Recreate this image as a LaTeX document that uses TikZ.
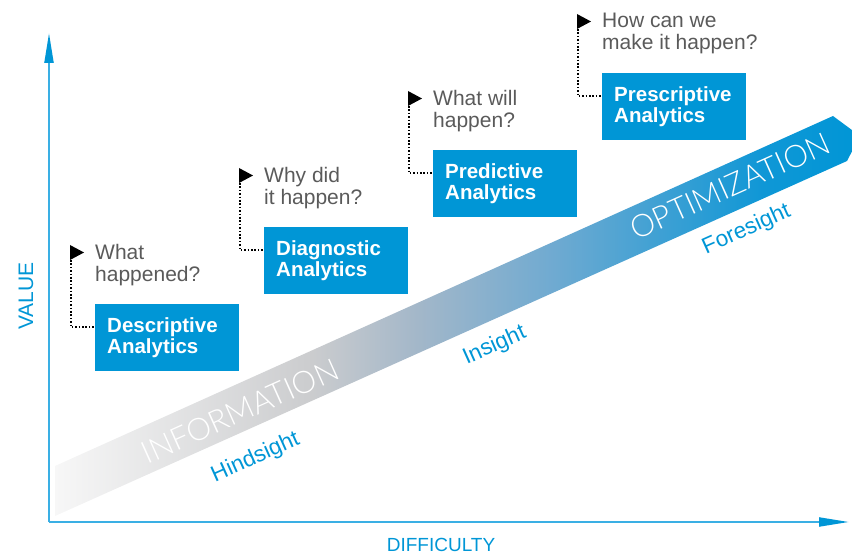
\documentclass[tikz,border=0pt]{standalone}
\usepackage{fontspec}
\setmainfont{Liberation Sans}
\newfontfamily\thinfont{Lato Light}
\usetikzlibrary{arrows.meta}
\definecolor{cblue}{HTML}{0096D6}
\definecolor{axisblue}{HTML}{3AAFE4}
\definecolor{qgray}{HTML}{5A5A5A}
\definecolor{bandA}{HTML}{F7F7F7}
\definecolor{bandB}{HTML}{CBCCCE}
\definecolor{bandC}{HTML}{A3B7C9}
\definecolor{bandD}{HTML}{6FAAD1}
\definecolor{bandE}{HTML}{0F97D6}
% TikZ maps the path onto the 25bp--75bp part of the shading
\pgfdeclarehorizontalshading{bandshade}{100bp}{color(0bp)=(bandA); color(25bp)=(bandA); color(41bp)=(bandB); color(47.5bp)=(bandC); color(56bp)=(bandD); color(69bp)=(bandE); color(75bp)=(cblue); color(100bp)=(cblue)}
\tikzset{
  abox/.style={fill=cblue, text=white, minimum width=144pt, minimum height=67pt,
    inner xsep=12pt, inner ysep=0pt, align=left, text width=120pt,
    font=\fontsize{20.5}{21}\selectfont\bfseries},
  qtext/.style={text=qgray, align=left, inner sep=0pt, font=\fontsize{21}{22}\selectfont},
  dotline/.style={black, line width=1.6pt, dash pattern=on 1.6pt off 1.8pt},
  bandtext/.style={text=white, inner sep=0pt, font=\thinfont\fontsize{31}{31}\selectfont},
  sighttext/.style={text=cblue, inner sep=0pt, anchor=base, font=\fontsize{22.5}{22.5}\selectfont},
  axislabel/.style={text=cblue, inner sep=0pt, anchor=base, font=\fontsize{19}{19}\selectfont},
  axisline/.style={axisblue, line width=2pt, -{Triangle[length=30pt,width=9pt,color=cblue]}}
}
\newcommand\stagegroup[5]{%
  \node[qtext, anchor=north west] (#1q) at (#2,#3-60) {#4};
  \node[abox, anchor=north west] (#1) at (#2,#3) {#5};
  \coordinate (#1f) at (#2-25,#3-59);
  \fill[black] (#1f) -- ++(0,15) -- ++(14,-7.5) -- cycle;
  \draw[dotline] ([xshift=1pt,yshift=-15pt]#1f) |- ([yshift=10.5pt]#1.west);
}
\begin{document}
\begin{tikzpicture}[x=1pt,y=-1pt]
\useasboundingbox (0,0) rectangle (852,553);
% band
\shade[shading=bandshade] (55,466) -- (833,116) -- (860,136) -- (847,161) -- (55,516) -- cycle;
\node[bandtext, rotate=24.2] (info) at (240,411) {INFORMATION};
\node[bandtext, rotate=24.2] (opti) at (730,186) {OPTIMIZATION};
\node[sighttext, rotate=24.2] (hind) at (258,463) {Hindsight};
\node[sighttext, rotate=24.2] (ins) at (497,351) {Insight};
\node[sighttext, rotate=24.2] (fore) at (749,235) {Foresight};
% axes
\coordinate (O) at (49,522);
\coordinate (Ytip) at (49,33);
\coordinate (Xtip) at (849,522);
\draw[axisline] (O) -- (Ytip);
\draw[axisline] (O) -- (Xtip);
\node[axislabel, rotate=90, font=\fontsize{21}{21}\selectfont] (val) at (33,296) {VALUE};
\node[axislabel] (diff) at (441,551) {DIFFICULTY};
% stages
\stagegroup{desc}{95}{304}{What\\happened?}{Descriptive\\Analytics}
\stagegroup{diag}{264}{227}{Why did\\it happen?}{Diagnostic\\Analytics}
\stagegroup{pred}{433}{150}{What will\\happen?}{Predictive\\Analytics}
\stagegroup{pres}{602}{73}{How can we\\make it happen?}{Prescriptive\\Analytics}
\end{tikzpicture}
\end{document}
